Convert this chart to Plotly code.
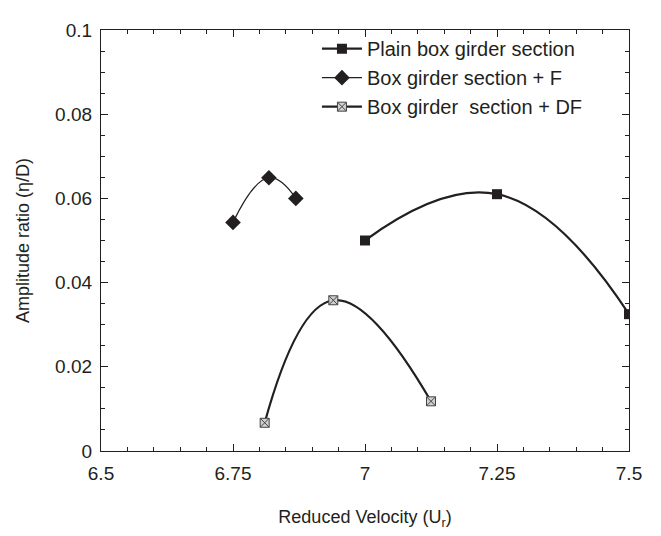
import plotly.graph_objects as go

# Data
plain_x = [7.0, 7.25, 7.5]
plain_y = [0.0500, 0.0610, 0.0325]

f_x = [6.75, 6.818, 6.869]
f_y = [0.0543, 0.0649, 0.0600]

df_x = [6.81, 6.94, 7.125]
df_y = [0.0067, 0.0358, 0.0118]

names = ["Plain box girder section", "Box girder section + F", "Box girder  section + DF"]

ink = "#231f20"
font_family = "Liberation Sans, Arial, sans-serif"

fig = go.Figure()
fig.add_trace(go.Scatter(
    x=plain_x, y=plain_y, name=names[0], mode="lines+markers",
    line=dict(color=ink, width=2.2, shape="spline", smoothing=1.3),
    marker=dict(symbol="square", size=10, color=ink),
))
fig.add_trace(go.Scatter(
    x=f_x, y=f_y, name=names[1], mode="lines+markers",
    line=dict(color=ink, width=1.2, shape="spline", smoothing=1.3),
    marker=dict(symbol="diamond", size=12, color=ink),
))
fig.add_trace(go.Scatter(
    x=df_x, y=df_y, name=names[2], mode="lines+markers",
    line=dict(color=ink, width=2.2, shape="spline", smoothing=1.3),
    marker=dict(symbol="square-x", size=9, color="#d0d0d0",
                line=dict(color="#444444", width=1)),
))

axis_common = dict(
    showline=True, linecolor=ink, linewidth=1.2, mirror="ticks",
    ticks="inside", ticklen=7, tickwidth=1, tickcolor=ink,
    showgrid=False, zeroline=False,
    tickfont=dict(family=font_family, size=19, color=ink),
)

fig.update_xaxes(
    range=[6.5, 7.5], dtick=0.25, tick0=6.5,
    minor=dict(ticks="inside", dtick=0.05, ticklen=4, tickcolor=ink, showgrid=False),
    title=dict(text="Reduced Velocity (U<sub>r</sub>)", font=dict(family=font_family, size=18, color=ink), standoff=27),
    ticklabelstandoff=5,
    **axis_common,
)
fig.update_yaxes(
    range=[0, 0.1], dtick=0.02, tick0=0,
    minor=dict(ticks="inside", dtick=0.005, ticklen=4, tickcolor=ink, showgrid=False),
    title=dict(text="Amplitude ratio (\u03b7/D)", font=dict(family=font_family, size=18, color=ink), standoff=20),
    ticklabelstandoff=4,
    **axis_common,
)

fig.update_layout(
    width=653, height=528,
    margin=dict(l=93, r=32, t=12, b=83),
    paper_bgcolor="white", plot_bgcolor="white",
    font=dict(family=font_family, color=ink),
    showlegend=True,
    legend=dict(
        x=0.409, y=1.002, xanchor="left", yanchor="top",
        bgcolor="rgba(0,0,0,0)", borderwidth=0,
        font=dict(family=font_family, size=20, color=ink),
        tracegroupgap=0, itemwidth=40,
    ),
)

fig.write_html("out.html")
